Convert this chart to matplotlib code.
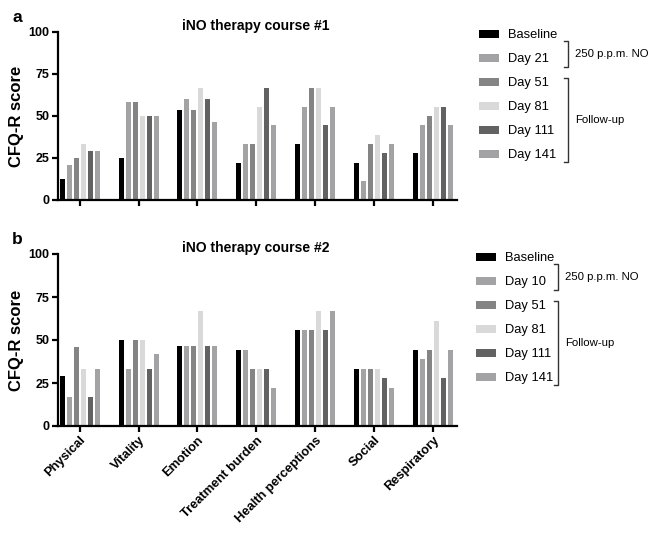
import numpy as np
import matplotlib
matplotlib.use("Agg")
import matplotlib.pyplot as plt
from matplotlib.patches import Rectangle
from matplotlib.lines import Line2D

plt.rcParams["font.family"] = ["Liberation Sans", "DejaVu Sans"]

domains = ["Physical", "Vitality", "Emotion", "Treatment burden",
           "Health perceptions", "Social", "Respiratory"]

labels_1 = ["Baseline", "Day 21", "Day 51", "Day 81", "Day 111", "Day 141"]
labels_2 = ["Baseline", "Day 10", "Day 51", "Day 81", "Day 111", "Day 141"]
colors = ["#000000", "#a3a3a6", "#848484", "#d9d9d9", "#626262", "#a3a3a6"]

# rows = time point, columns = domain
course_1 = [
    [12.5, 25.0, 53.3, 22.2, 33.3, 22.2, 27.8],
    [20.8, 58.3, 60.0, 33.3, 55.6, 11.1, 44.4],
    [25.0, 58.3, 53.3, 33.3, 66.7, 33.3, 50.0],
    [33.3, 50.0, 66.7, 55.6, 66.7, 38.9, 55.6],
    [29.2, 50.0, 60.0, 66.7, 44.4, 27.8, 55.6],
    [29.2, 50.0, 46.7, 44.4, 55.6, 33.3, 44.4],
]
course_2 = [
    [29.2, 50.0, 46.7, 44.4, 55.6, 33.3, 44.4],
    [16.7, 33.3, 46.7, 44.4, 55.6, 33.3, 38.9],
    [45.8, 50.0, 46.7, 33.3, 55.6, 33.3, 44.4],
    [33.3, 50.0, 66.7, 33.3, 66.7, 33.3, 61.1],
    [16.7, 33.3, 46.7, 33.3, 55.6, 27.8, 27.8],
    [33.3, 41.7, 46.7, 22.2, 66.7, 22.2, 44.4],
]

W, H = 649, 540
fig = plt.figure(figsize=(W / 100, H / 100), dpi=100)


def fx(px):
    return px / W


def fy(py):
    return 1 - py / H


def panel(top, bottom, data, labels, title, letter, leg_x, leg_y, br_x, show_xt):
    ax = fig.add_axes([fx(58), fy(bottom), fx(457) - fx(58), fy(top) - fy(bottom)])
    x = np.arange(len(domains))
    pitch = 0.119
    width = 0.085
    for i, vals in enumerate(data):
        ax.bar(x + (i - 2.5) * pitch, vals, width=width, color=colors[i], linewidth=0)
    ax.set_xlim(-0.37, 6.41)
    ax.set_ylim(0, 100)
    ax.set_yticks([0, 25, 50, 75, 100])
    ax.set_xticks(x)
    for s in ["top", "right"]:
        ax.spines[s].set_visible(False)
    for s in ["left", "bottom"]:
        ax.spines[s].set_linewidth(1.6)
    ax.tick_params(width=1.6, length=4, labelsize=9, pad=2)
    for t in ax.get_yticklabels():
        t.set_fontweight("bold")
    if show_xt:
        ax.set_xticklabels(domains, rotation=45, ha="right", rotation_mode="anchor",
                           fontweight="bold", fontsize=9.3)
    else:
        ax.set_xticklabels([])
    ax.set_ylabel("CFQ-R score", fontsize=12, fontweight="bold", labelpad=3)
    fig.text(fx(256), fy(top - 6), title, ha="center", va="center",
             fontsize=10, fontweight="bold")
    fig.text(fx(12), fy(top - 14), letter, fontsize=12.5,
             fontweight="bold", va="center", ha="left")

    # legend
    for i, lab in enumerate(labels):
        yc = leg_y + i * 24
        fig.add_artist(Rectangle((fx(leg_x), fy(yc + 4)), fx(20), 8 / H,
                                 transform=fig.transFigure, color=colors[i], lw=0))
        fig.text(fx(leg_x + 29), fy(yc + 1), lab, fontsize=9.3, va="center", ha="left")

    # brackets
    def bracket(y0, y1, txt):
        xs = [fx(br_x - 4), fx(br_x), fx(br_x), fx(br_x - 4)]
        ys = [fy(y0), fy(y0), fy(y1), fy(y1)]
        fig.add_artist(Line2D(xs, ys, transform=fig.transFigure, color="#333333", lw=1))
        fig.text(fx(br_x + 7), fy((y0 + y1) / 2), txt, fontsize=8.2, va="center", ha="left")

    bracket(leg_y + 7, leg_y + 33, "250 p.p.m. NO")
    bracket(leg_y + 44, leg_y + 128, "Follow-up")
    return ax


panel(32, 200, course_1, labels_1, "iNO therapy course #1", "a", 479, 34, 568, False)
panel(254, 426, course_2, labels_2, "iNO therapy course #2", "b", 476, 257, 558, True)

fig.savefig("out.png", dpi=100)
